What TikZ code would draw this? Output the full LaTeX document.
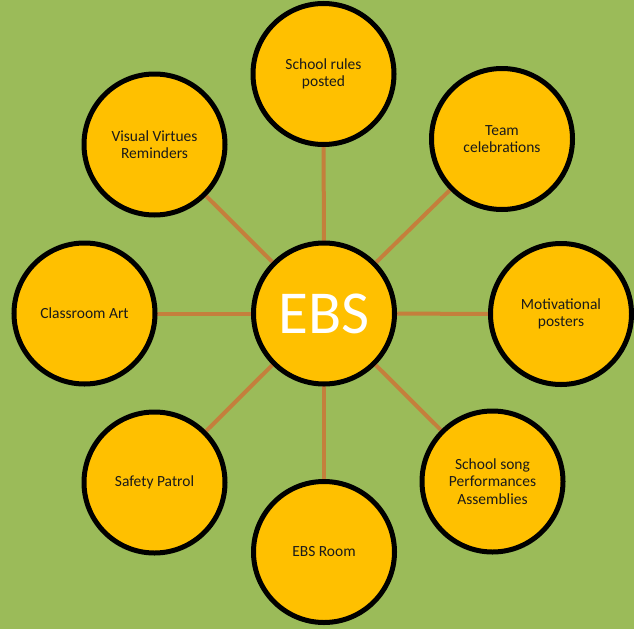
\documentclass[tikz,border=0pt]{standalone}
\usepackage{fontspec}
\setmainfont{Carlito}
\usetikzlibrary{backgrounds}
\definecolor{bggreen}{HTML}{9BBB59}
\definecolor{disc}{HTML}{FFC000}
\definecolor{spoke}{HTML}{C47F3C}
\definecolor{txt}{HTML}{1A1A1A}
\tikzset{
  bubble/.style={circle, draw=black, line width=5pt, fill=disc, minimum size=141pt, inner sep=0pt,
    align=center, text=txt, font=\fontsize{15.5}{17.5}\selectfont},
  hub/.style={bubble, text=white, font=\fontsize{61}{64}\selectfont},
  spokeline/.style={draw=spoke, line width=4pt}
}
\begin{document}
\begin{tikzpicture}[x=1pt,y=-1pt]
\useasboundingbox (0,0) rectangle (634,629);
\node[hub] (ebs) at (324,313.5) {EBS};
\node[bubble] (rules) at (323.5,74) {School rules\\posted};
\node[bubble] (virtues) at (154.5,144.5) {Visual Virtues\\Reminders};
\node[bubble] (team) at (502,139) {Team\\celebrations};
\node[bubble] (art) at (84.5,313.5) {Classroom Art};
\node[bubble] (motiv) at (561,314) {Motivational\\posters};
\node[bubble] (safety) at (154.5,482.5) {Safety Patrol};
\node[bubble] (room) at (324,552) {EBS Room};
\node[bubble] (song) at (492.5,481.5) {School song\\Performances\\Assemblies};
\begin{scope}[on background layer]
\fill[bggreen] (0,0) rectangle (634,629);
\foreach \n in {rules,virtues,team,art,motiv,safety,room,song}
  \draw[spokeline] (ebs.center) -- (\n.center);
\end{scope}
\end{tikzpicture}
\end{document}
